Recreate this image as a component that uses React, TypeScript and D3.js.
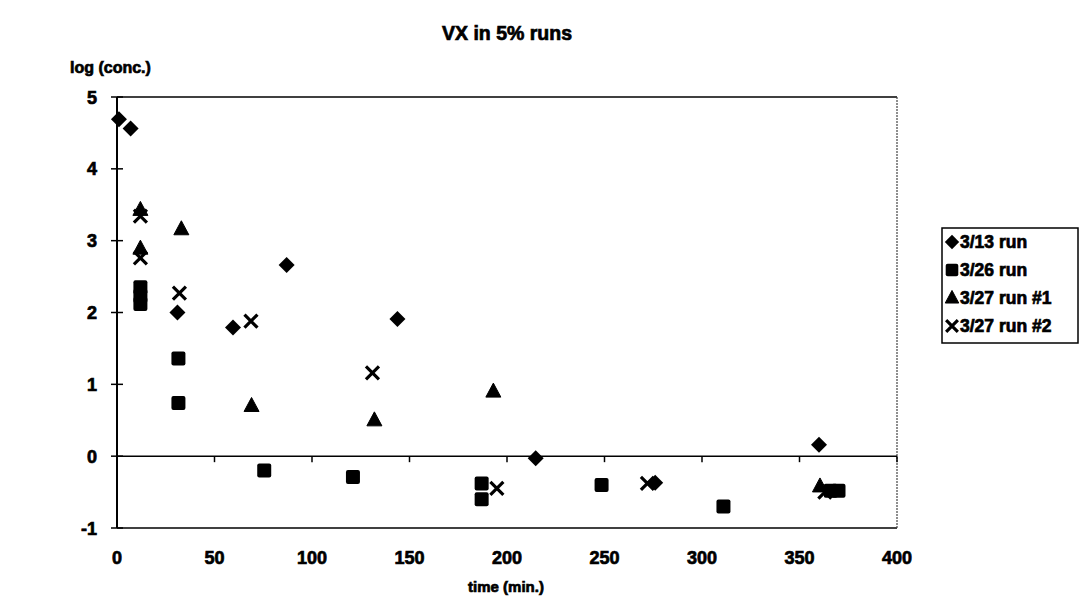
import React from "react";
import * as d3 from "d3";

const run0313: [number, number][] = [
  [1, 4.69], [7, 4.56], [31, 2.0], [59.5, 1.79], [87, 2.66], [143.8, 1.91],
  [214.7, -0.03], [276, -0.37], [360, 0.16],
];
const run0326: [number, number][] = [
  [12, 2.35], [12, 2.23], [12, 2.12], [31.5, 1.36], [31.5, 0.74], [75.5, -0.2],
  [121, -0.29], [187, -0.38], [187, -0.6], [248.5, -0.4], [311, -0.7],
  [366, -0.48], [370, -0.48],
];
const run0327a: [number, number][] = [
  [12, 3.43], [12, 2.89], [33, 3.16], [69, 0.7], [132, 0.5], [193, 0.9], [360.5, -0.42],
];
const run0327b: [number, number][] = [
  [12, 3.34], [12, 2.76], [32, 2.27], [68.7, 1.88], [131, 1.16], [194.8, -0.45],
  [272, -0.38], [363, -0.5],
];

const xTicks = [0, 50, 100, 150, 200, 250, 300, 350, 400];
const yTicks = [-1, 0, 1, 2, 3, 4, 5];
const legendLabels = ["3/13 run", "3/26 run", "3/27 run #1", "3/27 run #2"];

const FONT = "'Liberation Sans', Arial, Helvetica, sans-serif";

type Shape = "diamond" | "square" | "triangle" | "x";

function Marker({ shape, cx, cy, k = 1 }: { shape: Shape; cx: number; cy: number; k?: number }) {
  if (shape === "diamond") {
    const r = 8 * k;
    return <path d={`M${cx},${cy - r}L${cx + r},${cy}L${cx},${cy + r}L${cx - r},${cy}Z`} fill="#000" />;
  }
  if (shape === "square") {
    const s = 14 * k;
    return <rect x={cx - s / 2} y={cy - s / 2} width={s} height={s} rx={2} fill="#000" />;
  }
  if (shape === "triangle") {
    const w = 15 * k, h = 14 * k;
    return (
      <path
        d={`M${cx},${cy - h * 0.6}L${cx + w / 2},${cy + h * 0.4}L${cx - w / 2},${cy + h * 0.4}Z`}
        fill="#000"
        stroke="#000"
        strokeWidth={1}
        strokeLinejoin="round"
      />
    );
  }
  const r = 6.5 * k;
  return (
    <path
      d={`M${cx - r},${cy - r}L${cx + r},${cy + r}M${cx + r},${cy - r}L${cx - r},${cy + r}`}
      stroke="#000"
      strokeWidth={3.2}
      fill="none"
    />
  );
}

const heavy = { fontWeight: 700, stroke: "#000", strokeWidth: 0.7, paintOrder: "stroke" } as const;

export default function App() {
  const W = 1081, H = 607;
  const x = d3.scaleLinear().domain([0, 400]).range([117, 897]);
  const y = d3.scaleLinear().domain([-1, 5]).range([528, 97]);

  const series: { data: [number, number][]; shape: Shape }[] = [
    { data: run0313, shape: "diamond" },
    { data: run0326, shape: "square" },
    { data: run0327a, shape: "triangle" },
    { data: run0327b, shape: "x" },
  ];
  const shapes: Shape[] = ["diamond", "square", "triangle", "x"];

  const x0 = x(0), x1 = x(400), yTop = y(5), yBot = y(-1), yZero = y(0);

  return (
    <svg
      width={W}
      height={H}
      style={{ position: "absolute", left: 0, top: 0, background: "#fff" }}
      fontFamily={FONT}
    >
      <rect x={0} y={0} width={W} height={H} fill="#fff" />
      <text x={507} y={40} textAnchor="middle" fontSize={19.5} {...heavy}>
        VX in 5% runs
      </text>
      <text x={70} y={73} fontSize={16} {...heavy}>
        log (conc.)
      </text>

      {/* plot border */}
      <line x1={x0} x2={x1} y1={yTop} y2={yTop} stroke="#000" strokeWidth={1.5} />
      <line x1={x0} x2={x1} y1={yBot} y2={yBot} stroke="#000" strokeWidth={1.5} />
      <line x1={x1} x2={x1} y1={yTop} y2={yBot} stroke="#444" strokeWidth={1.2} strokeDasharray="2,1" />

      {/* y axis */}
      <line x1={x0} x2={x0} y1={yTop} y2={yBot} stroke="#000" strokeWidth={2} />
      {yTicks.map((t) => (
        <g key={`yt${t}`}>
          <line x1={x0 - 6} x2={x0 + 6} y1={y(t)} y2={y(t)} stroke="#000" strokeWidth={1.5} />
          <text x={97} y={y(t) + 6.5} textAnchor="end" fontSize={18} {...heavy}>
            {t}
          </text>
        </g>
      ))}

      {/* x axis at y = 0 */}
      <line x1={x0} x2={x1} y1={yZero} y2={yZero} stroke="#000" strokeWidth={1.5} />
      {xTicks.map((t) => (
        <g key={`xt${t}`}>
          <line x1={x(t)} x2={x(t)} y1={yZero} y2={yZero + 6} stroke="#000" strokeWidth={1.5} />
          <text x={x(t)} y={564} textAnchor="middle" fontSize={18} {...heavy}>
            {t}
          </text>
        </g>
      ))}
      <text x={506} y={592} textAnchor="middle" fontSize={15} {...heavy}>
        time (min.)
      </text>

      {/* data */}
      {series.map((s, i) => (
        <g key={`s${i}`}>
          {s.data.map((d, j) => (
            <Marker key={j} shape={s.shape} cx={x(d[0])} cy={y(d[1])} />
          ))}
        </g>
      ))}

      {/* legend */}
      <rect x={942} y={228} width={136} height={115} fill="#fff" stroke="#000" strokeWidth={1.5} />
      {legendLabels.map((l, i) => {
        const cy = 242 + i * 28;
        return (
          <g key={l}>
            <Marker shape={shapes[i]} cx={952} cy={cy} k={0.9} />
            <text x={960} y={cy + 6} fontSize={17.5} {...heavy}>
              {l}
            </text>
          </g>
        );
      })}
    </svg>
  );
}
